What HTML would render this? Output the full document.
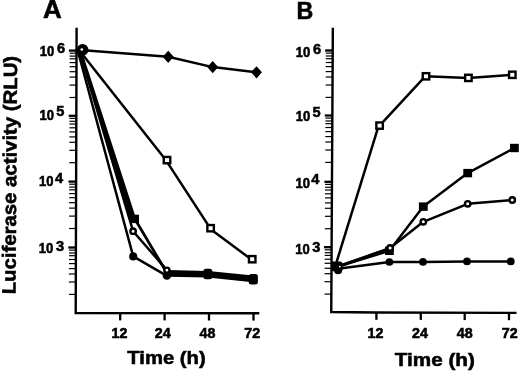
<!DOCTYPE html>
<html><head><meta charset="utf-8"><title>Luciferase activity</title>
<style>
html,body{margin:0;padding:0;background:#fff;}
body{width:520px;height:371px;overflow:hidden;}
svg{display:block;filter:grayscale(1);}
text{font-family:"Liberation Sans",sans-serif;font-weight:bold;fill:#000;stroke:#000;stroke-width:0.55px;}
</style></head><body>
<svg width="520" height="371" viewBox="0 0 520 371">
<rect width="520" height="371" fill="#fff"/>

<path d="M76.6 27.8L75.7 313.0 L259.3 313.3" fill="none" stroke="#000" stroke-width="2.4" stroke-linejoin="miter"/>
<line x1="68.9" x2="76.5" y1="50.6" y2="50.6" stroke="#000" stroke-width="2.3"/>
<line x1="69.6" x2="76.5" y1="53.2" y2="53.2" stroke="#000" stroke-width="1.2"/>
<line x1="69.6" x2="76.5" y1="56.1" y2="56.1" stroke="#000" stroke-width="1.2"/>
<line x1="69.6" x2="76.5" y1="58.8" y2="58.8" stroke="#000" stroke-width="1.2"/>
<line x1="69.6" x2="76.5" y1="62.6" y2="62.6" stroke="#000" stroke-width="1.2"/>
<line x1="69.6" x2="76.5" y1="66.7" y2="66.7" stroke="#000" stroke-width="1.2"/>
<line x1="69.6" x2="76.5" y1="71.7" y2="71.7" stroke="#000" stroke-width="1.2"/>
<line x1="69.5" x2="76.4" y1="77.1" y2="77.1" stroke="#000" stroke-width="1.2"/>
<line x1="69.5" x2="76.4" y1="85.1" y2="85.1" stroke="#000" stroke-width="1.2"/>
<line x1="69.5" x2="76.4" y1="97.5" y2="97.5" stroke="#000" stroke-width="1.2"/>
<line x1="68.7" x2="76.3" y1="115.8" y2="115.8" stroke="#000" stroke-width="2.3"/>
<line x1="69.4" x2="76.3" y1="118.4" y2="118.4" stroke="#000" stroke-width="1.2"/>
<line x1="69.4" x2="76.3" y1="121.3" y2="121.3" stroke="#000" stroke-width="1.2"/>
<line x1="69.4" x2="76.3" y1="124.0" y2="124.0" stroke="#000" stroke-width="1.2"/>
<line x1="69.4" x2="76.3" y1="127.8" y2="127.8" stroke="#000" stroke-width="1.2"/>
<line x1="69.4" x2="76.3" y1="131.9" y2="131.9" stroke="#000" stroke-width="1.2"/>
<line x1="69.4" x2="76.3" y1="136.9" y2="136.9" stroke="#000" stroke-width="1.2"/>
<line x1="69.3" x2="76.2" y1="142.3" y2="142.3" stroke="#000" stroke-width="1.2"/>
<line x1="69.3" x2="76.2" y1="150.3" y2="150.3" stroke="#000" stroke-width="1.2"/>
<line x1="69.3" x2="76.2" y1="162.7" y2="162.7" stroke="#000" stroke-width="1.2"/>
<line x1="68.5" x2="76.1" y1="181.6" y2="181.6" stroke="#000" stroke-width="2.3"/>
<line x1="69.2" x2="76.1" y1="184.2" y2="184.2" stroke="#000" stroke-width="1.2"/>
<line x1="69.2" x2="76.1" y1="187.1" y2="187.1" stroke="#000" stroke-width="1.2"/>
<line x1="69.2" x2="76.1" y1="189.8" y2="189.8" stroke="#000" stroke-width="1.2"/>
<line x1="69.2" x2="76.1" y1="193.6" y2="193.6" stroke="#000" stroke-width="1.2"/>
<line x1="69.2" x2="76.1" y1="197.7" y2="197.7" stroke="#000" stroke-width="1.2"/>
<line x1="69.1" x2="76.0" y1="202.7" y2="202.7" stroke="#000" stroke-width="1.2"/>
<line x1="69.1" x2="76.0" y1="208.1" y2="208.1" stroke="#000" stroke-width="1.2"/>
<line x1="69.1" x2="76.0" y1="216.1" y2="216.1" stroke="#000" stroke-width="1.2"/>
<line x1="69.1" x2="76.0" y1="228.5" y2="228.5" stroke="#000" stroke-width="1.2"/>
<line x1="68.3" x2="75.9" y1="247.5" y2="247.5" stroke="#000" stroke-width="2.3"/>
<line x1="69.0" x2="75.9" y1="250.1" y2="250.1" stroke="#000" stroke-width="1.2"/>
<line x1="69.0" x2="75.9" y1="253.0" y2="253.0" stroke="#000" stroke-width="1.2"/>
<line x1="69.0" x2="75.9" y1="255.7" y2="255.7" stroke="#000" stroke-width="1.2"/>
<line x1="69.0" x2="75.9" y1="259.5" y2="259.5" stroke="#000" stroke-width="1.2"/>
<line x1="69.0" x2="75.9" y1="263.6" y2="263.6" stroke="#000" stroke-width="1.2"/>
<line x1="68.9" x2="75.8" y1="268.6" y2="268.6" stroke="#000" stroke-width="1.2"/>
<line x1="68.9" x2="75.8" y1="274.0" y2="274.0" stroke="#000" stroke-width="1.2"/>
<line x1="68.9" x2="75.8" y1="282.0" y2="282.0" stroke="#000" stroke-width="1.2"/>
<line x1="68.9" x2="75.8" y1="294.4" y2="294.4" stroke="#000" stroke-width="1.2"/>
<line x1="120.2" x2="120.2" y1="313.1" y2="320.4" stroke="#000" stroke-width="2.3"/>
<line x1="164.6" x2="164.6" y1="313.1" y2="320.4" stroke="#000" stroke-width="2.3"/>
<line x1="209" x2="209" y1="313.2" y2="320.5" stroke="#000" stroke-width="2.3"/>
<line x1="253.5" x2="253.5" y1="313.3" y2="320.6" stroke="#000" stroke-width="2.3"/>
<text transform="translate(54.2,55.6) scale(0.93,1)" font-size="14" text-anchor="end">10</text>
<text transform="translate(57.0,52.6) scale(1.0,1)" font-size="14.6" text-anchor="start">6</text>
<text transform="translate(54.0,120.4) scale(0.93,1)" font-size="14" text-anchor="end">10</text>
<text transform="translate(56.3,116.3) scale(1.0,1)" font-size="14.6" text-anchor="start">5</text>
<text transform="translate(53.5,186.1) scale(0.93,1)" font-size="14" text-anchor="end">10</text>
<text transform="translate(54.9,182.9) scale(1.0,1)" font-size="14.6" text-anchor="start">4</text>
<text transform="translate(53.2,253.3) scale(0.93,1)" font-size="14" text-anchor="end">10</text>
<text transform="translate(55.9,250.6) scale(1.0,1)" font-size="14.6" text-anchor="start">3</text>
<text transform="translate(119.5,338) scale(1.02,1)" font-size="14" text-anchor="middle">12</text>
<text transform="translate(162.7,338) scale(1.02,1)" font-size="14" text-anchor="middle">24</text>
<text transform="translate(207.5,338) scale(1.02,1)" font-size="14" text-anchor="middle">48</text>
<text transform="translate(252.2,338) scale(1.02,1)" font-size="14" text-anchor="middle">72</text>
<polyline points="77.6,50.0 133.2,256.4 166.9,275.9" fill="none" stroke="#000" stroke-width="2.5" stroke-linejoin="round"/>
<polyline points="79.2,50.0 133.1,231.2 166.9,270.1" fill="none" stroke="#000" stroke-width="2.5" stroke-linejoin="round"/>
<polyline points="80.0,50.0 134.6,218.5 166.9,273.0" fill="none" stroke="#000" stroke-width="2.8" stroke-linejoin="round"/>
<polyline points="79.0,50.0 166.2,160.6 210.3,228.4" fill="none" stroke="#000" stroke-width="2.5" stroke-linejoin="round"/>
<polyline points="211.0,229.5 252.2,260.1" fill="none" stroke="#000" stroke-width="2.5" stroke-linejoin="round"/>
<polyline points="80.5,49.9 168.2,56.8 212.7,67.1 256.5,72.3" fill="none" stroke="#000" stroke-width="2.5" stroke-linejoin="round"/>
<path d="M79.2 50L80 50L134.6 218.5L130.0 218.5Z" fill="#000"/>
<polyline points="166.9,273.4 207.9,274.2 253.0,278.9" fill="none" stroke="#000" stroke-width="6.6" stroke-linejoin="round"/>
<circle cx="133.2" cy="256.4" r="4.05" fill="#000"/>
<rect x="130.2" y="214.7" width="8.8" height="8.4" fill="#000"/>
<circle cx="133.1" cy="231.2" r="2.70" fill="#fff" stroke="#000" stroke-width="2.4"/>
<circle cx="166.9" cy="275.6" r="4.25" fill="#000"/>
<circle cx="166.9" cy="270.2" r="2.6" fill="#fff" stroke="#000" stroke-width="2.4"/>
<rect x="203.4" y="268.8" width="8.9" height="10.4" rx="2.5" fill="#000"/>
<rect x="248.7" y="274.0" width="9.2" height="10.4" rx="2.5" fill="#000"/>
<rect x="163.75" y="156.95" width="6.50" height="6.30" fill="#fff" stroke="#000" stroke-width="2.4"/>
<rect x="207.35" y="225.05" width="6.50" height="6.30" fill="#fff" stroke="#000" stroke-width="2.4"/>
<rect x="248.95" y="256.05" width="6.50" height="6.30" fill="#fff" stroke="#000" stroke-width="2.4"/>
<path d="M162.7 56.8L168.2 50.7L173.7 56.8L168.2 62.9Z" fill="#000"/>
<path d="M207.2 67.1L212.7 61.0L218.2 67.1L212.7 73.2Z" fill="#000"/>
<path d="M251.0 72.3L256.5 66.2L262.0 72.3L256.5 78.4Z" fill="#000"/>
<circle cx="82.6" cy="49.8" r="5.9" fill="#000"/>
<circle cx="81.8" cy="49.5" r="1.35" fill="#fff"/>
<path d="M332.85 27.8L331.25 312.0 L376 312.5 L516.5 312.9" fill="none" stroke="#000" stroke-width="2.4" stroke-linejoin="miter"/>
<line x1="325.1" x2="332.7" y1="50.5" y2="50.5" stroke="#000" stroke-width="2.3"/>
<line x1="325.8" x2="332.7" y1="53.1" y2="53.1" stroke="#000" stroke-width="1.2"/>
<line x1="325.8" x2="332.7" y1="56.0" y2="56.0" stroke="#000" stroke-width="1.2"/>
<line x1="325.8" x2="332.7" y1="58.7" y2="58.7" stroke="#000" stroke-width="1.2"/>
<line x1="325.8" x2="332.7" y1="62.5" y2="62.5" stroke="#000" stroke-width="1.2"/>
<line x1="325.7" x2="332.6" y1="66.6" y2="66.6" stroke="#000" stroke-width="1.2"/>
<line x1="325.7" x2="332.6" y1="71.6" y2="71.6" stroke="#000" stroke-width="1.2"/>
<line x1="325.7" x2="332.6" y1="77.0" y2="77.0" stroke="#000" stroke-width="1.2"/>
<line x1="325.6" x2="332.5" y1="85.0" y2="85.0" stroke="#000" stroke-width="1.2"/>
<line x1="325.6" x2="332.5" y1="97.4" y2="97.4" stroke="#000" stroke-width="1.2"/>
<line x1="324.8" x2="332.4" y1="115.5" y2="115.5" stroke="#000" stroke-width="2.3"/>
<line x1="325.4" x2="332.3" y1="118.1" y2="118.1" stroke="#000" stroke-width="1.2"/>
<line x1="325.4" x2="332.3" y1="121.0" y2="121.0" stroke="#000" stroke-width="1.2"/>
<line x1="325.4" x2="332.3" y1="123.7" y2="123.7" stroke="#000" stroke-width="1.2"/>
<line x1="325.4" x2="332.3" y1="127.5" y2="127.5" stroke="#000" stroke-width="1.2"/>
<line x1="325.4" x2="332.3" y1="131.6" y2="131.6" stroke="#000" stroke-width="1.2"/>
<line x1="325.3" x2="332.2" y1="136.6" y2="136.6" stroke="#000" stroke-width="1.2"/>
<line x1="325.3" x2="332.2" y1="142.0" y2="142.0" stroke="#000" stroke-width="1.2"/>
<line x1="325.3" x2="332.2" y1="150.0" y2="150.0" stroke="#000" stroke-width="1.2"/>
<line x1="325.2" x2="332.1" y1="162.4" y2="162.4" stroke="#000" stroke-width="1.2"/>
<line x1="324.4" x2="332.0" y1="181.8" y2="181.8" stroke="#000" stroke-width="2.3"/>
<line x1="325.1" x2="332.0" y1="184.4" y2="184.4" stroke="#000" stroke-width="1.2"/>
<line x1="325.1" x2="332.0" y1="187.3" y2="187.3" stroke="#000" stroke-width="1.2"/>
<line x1="325.0" x2="331.9" y1="190.0" y2="190.0" stroke="#000" stroke-width="1.2"/>
<line x1="325.0" x2="331.9" y1="193.8" y2="193.8" stroke="#000" stroke-width="1.2"/>
<line x1="325.0" x2="331.9" y1="197.9" y2="197.9" stroke="#000" stroke-width="1.2"/>
<line x1="325.0" x2="331.9" y1="202.9" y2="202.9" stroke="#000" stroke-width="1.2"/>
<line x1="324.9" x2="331.8" y1="208.3" y2="208.3" stroke="#000" stroke-width="1.2"/>
<line x1="324.9" x2="331.8" y1="216.3" y2="216.3" stroke="#000" stroke-width="1.2"/>
<line x1="324.8" x2="331.7" y1="228.7" y2="228.7" stroke="#000" stroke-width="1.2"/>
<line x1="324.0" x2="331.6" y1="247.2" y2="247.2" stroke="#000" stroke-width="2.3"/>
<line x1="324.7" x2="331.6" y1="249.8" y2="249.8" stroke="#000" stroke-width="1.2"/>
<line x1="324.7" x2="331.6" y1="252.7" y2="252.7" stroke="#000" stroke-width="1.2"/>
<line x1="324.7" x2="331.6" y1="255.4" y2="255.4" stroke="#000" stroke-width="1.2"/>
<line x1="324.6" x2="331.5" y1="259.2" y2="259.2" stroke="#000" stroke-width="1.2"/>
<line x1="324.6" x2="331.5" y1="263.3" y2="263.3" stroke="#000" stroke-width="1.2"/>
<line x1="324.6" x2="331.5" y1="268.3" y2="268.3" stroke="#000" stroke-width="1.2"/>
<line x1="324.6" x2="331.5" y1="273.7" y2="273.7" stroke="#000" stroke-width="1.2"/>
<line x1="324.5" x2="331.4" y1="281.7" y2="281.7" stroke="#000" stroke-width="1.2"/>
<line x1="324.5" x2="331.4" y1="294.1" y2="294.1" stroke="#000" stroke-width="1.2"/>
<line x1="376.4" x2="376.4" y1="312.5" y2="319.8" stroke="#000" stroke-width="2.3"/>
<line x1="420.8" x2="420.8" y1="312.6" y2="319.9" stroke="#000" stroke-width="2.3"/>
<line x1="464.7" x2="464.7" y1="312.8" y2="320.1" stroke="#000" stroke-width="2.3"/>
<line x1="509" x2="509" y1="312.9" y2="320.2" stroke="#000" stroke-width="2.3"/>
<text transform="translate(310.2,57.2) scale(0.93,1)" font-size="14" text-anchor="end">10</text>
<text transform="translate(313.0,54.0) scale(1.0,1)" font-size="14.6" text-anchor="start">6</text>
<text transform="translate(310.2,120.6) scale(0.93,1)" font-size="14" text-anchor="end">10</text>
<text transform="translate(312.5,116.8) scale(1.0,1)" font-size="14.6" text-anchor="start">5</text>
<text transform="translate(310.0,187.5) scale(0.93,1)" font-size="14" text-anchor="end">10</text>
<text transform="translate(311.2,183.7) scale(1.0,1)" font-size="14.6" text-anchor="start">4</text>
<text transform="translate(309.8,254.4) scale(0.93,1)" font-size="14" text-anchor="end">10</text>
<text transform="translate(312.3,251.7) scale(1.0,1)" font-size="14.6" text-anchor="start">3</text>
<text transform="translate(375.5,338) scale(1.02,1)" font-size="14" text-anchor="middle">12</text>
<text transform="translate(420,338) scale(1.02,1)" font-size="14" text-anchor="middle">24</text>
<text transform="translate(464.7,338) scale(1.02,1)" font-size="14" text-anchor="middle">48</text>
<text transform="translate(509.8,338) scale(1.02,1)" font-size="14" text-anchor="middle">72</text>
<polyline points="338.0,268.8 389.4,262.0 423.0,261.9 467.0,261.4 510.8,261.4" fill="none" stroke="#000" stroke-width="2.5" stroke-linejoin="round"/>
<polyline points="336.5,267.2 390.1,248.0 423.3,221.8 467.7,203.8 512.3,200.0" fill="none" stroke="#000" stroke-width="2.5" stroke-linejoin="round"/>
<polyline points="336.5,267.0 389.4,250.8 423.3,206.6 467.7,173.1 514.4,148.0" fill="none" stroke="#000" stroke-width="2.5" stroke-linejoin="round"/>
<polyline points="335.2,266.5 378.6,125.8" fill="none" stroke="#000" stroke-width="2.5" stroke-linejoin="round"/>
<polyline points="379.6,125.6 425.2,76.3 468.4,77.9 512.3,74.8" fill="none" stroke="#000" stroke-width="2.5" stroke-linejoin="round"/>
<path d="M337 265.2L380 250.6L380 253.2L337 268.6Z" fill="#000"/>
<circle cx="389.4" cy="262.0" r="3.85" fill="#000"/>
<circle cx="423.0" cy="261.9" r="3.85" fill="#000"/>
<circle cx="467.0" cy="261.4" r="3.85" fill="#000"/>
<circle cx="510.8" cy="261.4" r="3.85" fill="#000"/>
<rect x="385.0" y="246.6" width="8.8" height="8.4" fill="#000"/>
<rect x="418.9" y="202.4" width="8.8" height="8.4" fill="#000"/>
<rect x="463.3" y="168.9" width="8.8" height="8.4" fill="#000"/>
<rect x="510.0" y="143.8" width="8.8" height="8.4" fill="#000"/>
<circle cx="390.1" cy="248.0" r="2.70" fill="#fff" stroke="#000" stroke-width="2.4"/>
<circle cx="423.3" cy="221.8" r="2.70" fill="#fff" stroke="#000" stroke-width="2.4"/>
<circle cx="467.7" cy="203.8" r="2.70" fill="#fff" stroke="#000" stroke-width="2.4"/>
<circle cx="512.3" cy="200.0" r="2.70" fill="#fff" stroke="#000" stroke-width="2.4"/>
<rect x="376.35" y="122.45" width="6.50" height="6.30" fill="#fff" stroke="#000" stroke-width="2.4"/>
<rect x="422.75" y="73.15" width="6.50" height="6.30" fill="#fff" stroke="#000" stroke-width="2.4"/>
<rect x="465.15" y="74.75" width="6.50" height="6.30" fill="#fff" stroke="#000" stroke-width="2.4"/>
<rect x="509.05" y="71.65" width="6.50" height="6.30" fill="#fff" stroke="#000" stroke-width="2.4"/>
<rect x="331.0" y="261.6" width="11.4" height="9.6" rx="2" fill="#000"/>
<circle cx="338.1" cy="270.2" r="4.1" fill="#000"/>
<circle cx="339.8" cy="266.6" r="0.9" fill="#fff"/>
<text transform="translate(42.9,18.3) scale(1.03,1)" font-size="25.2" text-anchor="start">A</text>
<text transform="translate(296.5,18.6) scale(0.96,1)" font-size="24.2" text-anchor="start">B</text>
<text transform="translate(166.5,363.8) scale(1.09,1)" font-size="18.6" text-anchor="middle">Time (h)</text>
<text transform="translate(434.8,365.6) scale(1.1,1)" font-size="18.8" text-anchor="middle">Time (h)</text>
<text transform="translate(16.3,175.1) rotate(-89.6) scale(1.06,1)" font-size="19.2" text-anchor="middle">Luciferase activity (RLU)</text>
</svg></body></html>
